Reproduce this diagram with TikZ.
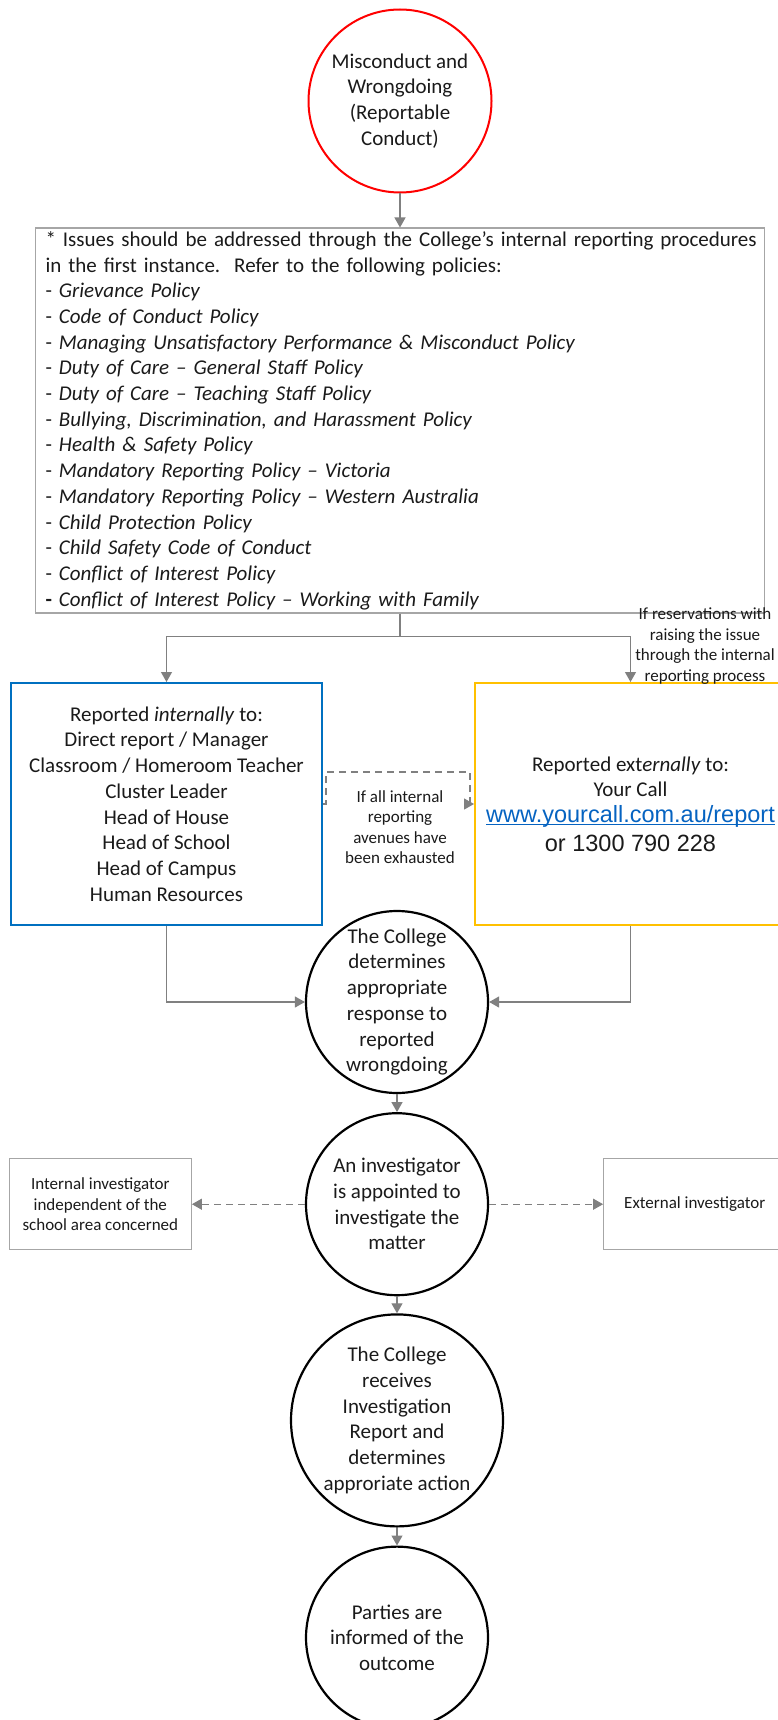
\documentclass[tikz,border=0pt]{standalone}
\usepackage{fontspec}
\setmainfont{Carlito}
\newfontfamily\arialfont{Liberation Sans}
\usetikzlibrary{arrows.meta,positioning}
\definecolor{linegray}{HTML}{808080}
\definecolor{boxgray}{HTML}{A6A6A6}
\definecolor{intblue}{HTML}{0070C0}
\definecolor{extgold}{HTML}{FFC000}
\definecolor{linkblue}{HTML}{0563C1}
\definecolor{txt}{HTML}{1A1A1A}

\begin{document}
\begin{tikzpicture}[
  x=1pt, y=-1pt,
  >={Triangle[length=10pt,width=11pt]},
  every node/.style={font=\fontsize{21}{25.7}\selectfont,text=txt},
  stage/.style={draw,circle,line width=2.2pt,minimum size=182pt,inner sep=-14pt,align=center},
  block/.style={draw,line width=2pt,minimum width=311pt,minimum height=242pt,align=center},
  smallbox/.style={draw=boxgray,line width=1.2pt,minimum width=182pt,minimum height=91pt,align=center,font=\fontsize{17}{20.5}\selectfont},
  note/.style={align=center,font=\fontsize{17}{20.5}\selectfont},
  arrow/.style={->,draw=linegray,line width=1.2pt},
  dasharrow/.style={arrow,dash pattern=on 7pt off 5pt}
]
  \useasboundingbox (0,0) rectangle (778,1720);
  \clip (0,0) rectangle (778,1720);

  \node[stage,draw=red,line width=2pt,minimum size=183pt] (misconduct) at (400,101)
    {Misconduct and\\Wrongdoing\\(Reportable\\Conduct)};
  \node[draw=boxgray,line width=1.2pt,below=34pt of misconduct,minimum height=382pt,
    text width=709pt,inner xsep=10pt,align=left] (policies) {%
    \mbox{* Issues should be addressed through the College’s internal reporting procedures}\\
    in the first instance.\ \ Refer to the following policies:\\
    - \textit{Grievance Policy}\\
    - \textit{Code of Conduct Policy}\\
    - \textit{Managing Unsatisfactory Performance \& Misconduct Policy}\\
    - \textit{Duty of Care – General Staff Policy}\\
    - \textit{Duty of Care – Teaching Staff Policy}\\
    - \textit{Bullying, Discrimination, and Harassment Policy}\\
    - \textit{Health \& Safety Policy}\\
    - \textit{Mandatory Reporting Policy – Victoria}\\
    - \textit{Mandatory Reporting Policy – Western Australia}\\
    - \textit{Child Protection Policy}\\
    - \textit{Child Safety Code of Conduct}\\
    - \textit{Conflict of Interest Policy}\\
    \textbf{-} \textit{Conflict of Interest Policy – Working with Family}};

  \node[block,draw=intblue] (intbox) at (166.5,804)
    {Reported \textit{internally} to:\\Direct report / Manager\\Classroom / Homeroom Teacher\\
     Cluster Leader\\Head of House\\Head of School\\Head of Campus\\Human Resources};
  \node[block,draw=extgold,right=151pt of intbox] (extbox)
    {Reported ext\textit{ernally} to:\\Your Call\\
     {\arialfont\fontsize{23.5}{27}\selectfont\color{linkblue}\underline{\smash{www.yourcall.com.au/report}}}\\[3pt]
     {\arialfont\fontsize{23.5}{27}\selectfont or 1300 790 228}};
  \node[note] (reservenote) at (705,646)
    {If reservations with\\raising the issue\\through the internal\\reporting process};
  \node[note] (exhaustnote) at (400,827)
    {If all internal\\reporting\\avenues have\\been exhausted};
  \coordinate (exhaustbend) at (470,772);

  \node[stage] (respond) at (397,1002)
    {The College\\determines\\appropriate\\response to\\reported\\wrongdoing};
  \node[stage,below=18pt of respond] (appoint)
    {An investigator\\is appointed to\\investigate the\\matter};
  \node[smallbox,left=113pt of appoint] (intinv)
    {Internal investigator\\independent of the\\school area concerned};
  \node[smallbox,right=114pt of appoint] (extinv) {External investigator};
  \node[stage,minimum size=212pt,below=17pt of appoint] (receive)
    {The College\\receives\\Investigation\\Report and\\determines\\approriate action};
  \node[stage,below=18pt of receive] (inform)
    {Parties are\\informed of the\\outcome};

  \draw[arrow] (misconduct) -- (policies);
  \draw[arrow] (policies.south) -- ++(0,23) -| (intbox.north);
  \draw[arrow] (policies.south) -- ++(0,23) -| (extbox.north);
  \draw[dasharrow] (intbox.east) -- ++(3,0) |- (exhaustbend) |- (extbox.west);
  \draw[arrow] (intbox.south) |- (respond.west);
  \draw[arrow] (extbox.south) |- (respond.east);
  \draw[arrow] (respond) -- (appoint);
  \draw[dasharrow] (appoint) -- (intinv);
  \draw[dasharrow] (appoint) -- (extinv);
  \draw[arrow] (appoint) -- (receive);
  \draw[arrow] (receive) -- (inform);
\end{tikzpicture}
\end{document}
